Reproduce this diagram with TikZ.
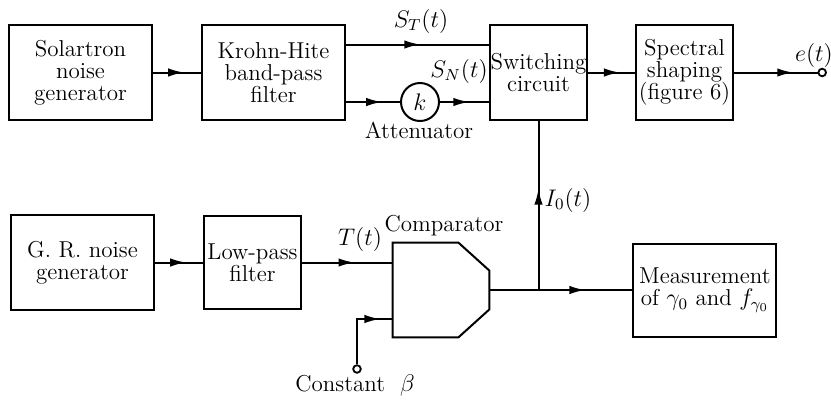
\documentclass[tikz,border=0pt]{standalone}
\usetikzlibrary{arrows.meta, positioning, decorations.markings}
\tikzset{
  block/.style={draw, line width=1pt, align=center, minimum width=71.5pt,
    minimum height=47.5pt, inner sep=1pt, font=\fontsize{11.5}{11}\selectfont},
  narrow/.style={block, minimum width=48.5pt, inner sep=0pt},
  compbody/.style={minimum width=48pt, minimum height=47pt, inner sep=0pt},
  attcircle/.style={draw, circle, line width=1pt, minimum size=19pt, inner sep=0pt,
    font=\fontsize{11.5}{12}\selectfont},
  term/.style={draw, circle, line width=0.9pt, minimum size=3.8pt, inner sep=0pt},
  sig/.style={line width=1pt},
  midarrow/.style={sig, postaction={decorate}, decoration={markings,
    mark=at position #1 with {\arrow{Latex[length=8pt,width=4.2pt]}}}},
  midarrow/.default=0.65,
  lbl/.style={font=\fontsize{11.5}{12}\selectfont}
}

\begin{document}
\begin{tikzpicture}[x=0.5pt, y=-0.5pt]
    \useasboundingbox (0,0) rectangle (831,403);
    % upper row
    \node[block] (solar) at (80.5,72.5) {Solartron\\noise\\generator};
    \node[block, right=24pt of solar] (krohn) {Krohn-Hite\\band-pass\\filter};
    \node[narrow, right=71.5pt of krohn] (switch) {Switching\\circuit};
    \node[narrow, right=23.5pt of switch] (spectral) {Spectral\\shaping\\(figure 6)};
    \node[attcircle] (att) at (420,102) {$k$};
    \node[term, right=41.75pt of spectral] (eout) {};
    % lower row
    \node[block] (gr) at (82.5,262.5) {G. R. noise\\generator};
    \node[narrow, minimum height=46.5pt, right=24pt of gr] (lowpass) {Low-pass\\filter};
    \node[compbody] (comp) at (441,290) {};
    \node[block, minimum height=46.5pt, right=71.5pt of comp] (meas)
      {Measurement\\of $\gamma_0$ and $f_{\gamma_0}$};
    \node[term] (cbeta) at (357,369) {};
    \coordinate (jn) at (switch.south |- comp.east);
    \draw[sig] (comp.north west) -- ([xshift=-15.5pt]comp.north east)
      -- ([yshift=-14pt]comp.north east) -- ([yshift=14pt]comp.south east)
      -- ([xshift=-15.5pt]comp.south east) -- (comp.south west) -- cycle;
    % labels
    \node[lbl] (stlab) at (421,21) {$S_T(t)$};
    \node[lbl] (snlab) at (459,71) {$S_N(t)$};
    \node[lbl] (attlab) at (419,130) {Attenuator};
    \node[lbl] (tlab) at (360,239) {$T(t)$};
    \node[lbl] (complab) at (444,226) {Comparator};
    \node[lbl] (i0lab) at (568,200) {$I_0(t)$};
    \node[lbl] (elab) at (814,55) {$e(t)$};
    \node[lbl] (clab) at (355,385) {Constant\ \ $\beta$};
    % signal paths
    \draw[midarrow] (solar) -- (krohn);
    \draw[midarrow=0.52] ([yshift=14pt]krohn.east) -- ([yshift=14pt]switch.west);
    \draw[midarrow=0.67] (krohn.east |- att) -- (att);
    \draw[midarrow=0.6] (att) -- (switch.west |- att);
    \draw[midarrow=0.68] (switch) -- (spectral);
    \draw[midarrow=0.71] (spectral) -- (eout);
    \draw[midarrow] (gr) -- (lowpass);
    \draw[midarrow=0.58] (lowpass.east) -- (lowpass.east -| comp.west);
    \draw[sig] (comp.east) -- (jn);
    \draw[midarrow=0.5] (jn) -- (jn -| meas.west);
    \draw[midarrow=0.6] (jn) -- (switch.south);
    \draw[midarrow=0.85] (cbeta) |- ([yshift=-14.5pt]comp.west);
  \end{tikzpicture}
\end{document}
